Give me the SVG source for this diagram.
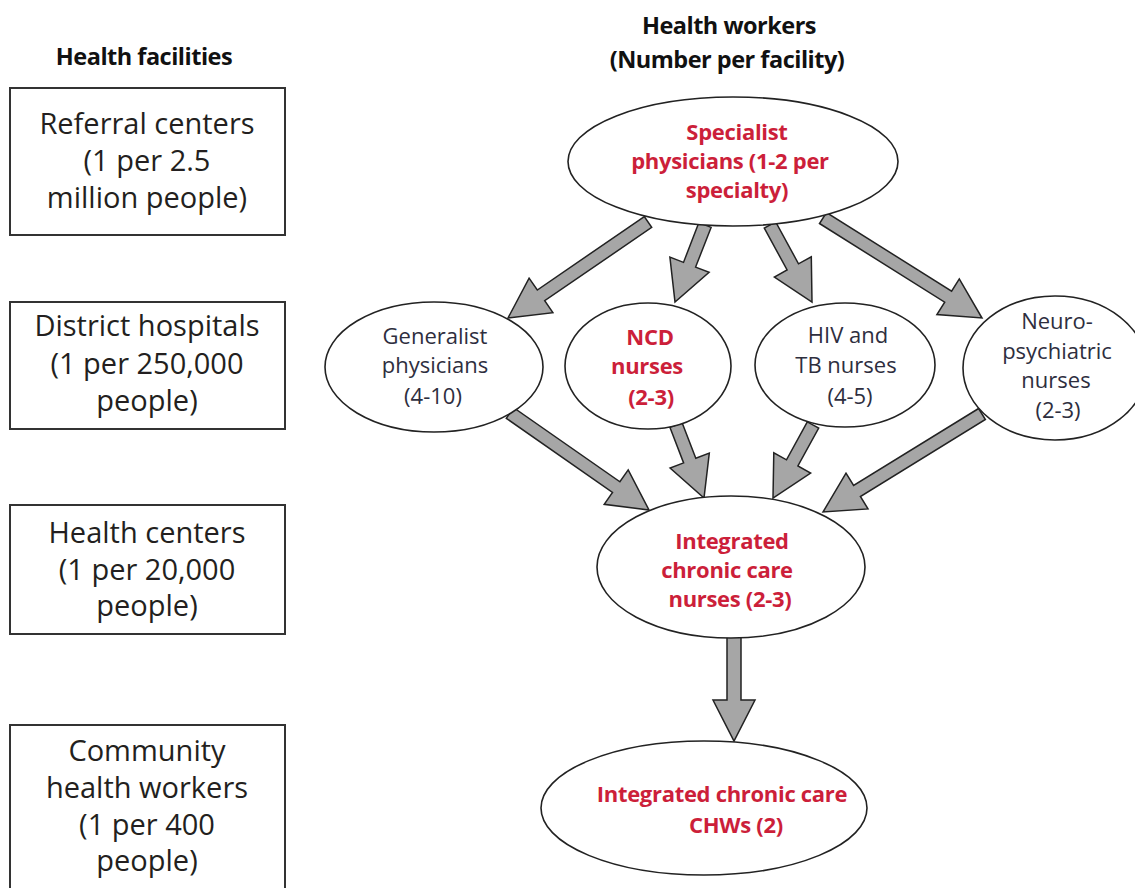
<svg xmlns="http://www.w3.org/2000/svg" width="1135" height="888" viewBox="0 0 1135 888">
<style>
text{font-family:"Open Sans","Lato","Liberation Sans",sans-serif;text-anchor:middle}
.hdr{font-size:23.5px;font-weight:bold;fill:#111;letter-spacing:-0.5px}
.box{fill:#fff;stroke:#333;stroke-width:2}
.bt{font-size:29px;fill:#231f20}
.el{fill:#fff;stroke:#222;stroke-width:1.6}
.nt{font-size:22px;fill:#2e2e3e}
.rt{font-size:22px;font-weight:bold;fill:#cc1f3a;letter-spacing:-0.3px}
.arr{fill:#a6a6a6;stroke:#222;stroke-width:1.5;stroke-linejoin:miter}
</style>
<rect width="1135" height="888" fill="#fff"/>
<g id="headers">
<text class="hdr" x="144" y="65">Health facilities</text>
<text class="hdr" x="729" y="34">Health workers</text>
<text class="hdr" x="727" y="68">(Number per facility)</text>
</g>
<g id="facility-referral">
<rect class="box" x="10" y="88" width="275" height="147"/>
<text class="bt" x="147" y="134">Referral centers</text>
<text class="bt" x="147" y="171">(1 per 2.5</text>
<text class="bt" x="147" y="208">million people)</text>
</g>
<g id="facility-district">
<rect class="box" x="10" y="302" width="275" height="127"/>
<text class="bt" x="147" y="336">District hospitals</text>
<text class="bt" x="147" y="374">(1 per 250,000</text>
<text class="bt" x="147" y="411">people)</text>
</g>
<g id="facility-health-centers">
<rect class="box" x="10" y="505" width="275" height="129"/>
<text class="bt" x="147" y="543">Health centers</text>
<text class="bt" x="147" y="580">(1 per 20,000</text>
<text class="bt" x="147" y="616">people)</text>
</g>
<g id="facility-chw">
<rect class="box" x="10" y="725" width="275" height="175"/>
<text class="bt" x="147" y="761">Community</text>
<text class="bt" x="147" y="798">health workers</text>
<text class="bt" x="147" y="835">(1 per 400</text>
<text class="bt" x="147" y="871">people)</text>
</g>
<g id="connectors">
<polygon class="arr" points="644.3,216.6 537.3,290.0 529.1,278.1 508,318 552.9,312.7 544.7,300.7 651.7,227.4"/>
<polygon class="arr" points="698.9,222.6 683.5,262.4 669.9,257.1 675,302 709.1,272.3 695.6,267.1 711.1,227.4"/>
<polygon class="arr" points="764.3,228.1 787.1,270.0 774.4,277.0 812,302 811.3,256.8 798.5,263.8 775.7,221.9"/>
<polygon class="arr" points="819.5,223.5 944.7,302.2 936.9,314.5 982,318 959.3,278.9 951.6,291.2 826.5,212.5"/>
<polygon class="arr" points="506.3,418.3 612.5,492.4 604.2,504.3 649,510 628.2,469.9 619.9,481.8 513.7,407.7"/>
<polygon class="arr" points="669.9,427.3 683.6,462.9 670.1,468.1 704,498 709.3,453.1 695.8,458.3 682.1,422.7"/>
<polygon class="arr" points="807.3,421.9 786.5,459.8 773.8,452.8 773,498 810.6,473.0 797.9,466.0 818.7,428.1"/>
<polygon class="arr" points="978.6,408.5 853.6,485.5 846.0,473.1 823,512 868.0,508.9 860.4,496.5 985.4,419.5"/>
<polygon class="arr" points="727,630 727,700 713,700 734,741 755,700 741,700 741,630"/>
</g>
<g id="node-specialist">
<ellipse class="el" cx="733" cy="161.5" rx="165" ry="64.5"/>
<text class="rt" x="737" y="140">Specialist</text>
<text class="rt" x="730" y="169">physicians (1-2 per</text>
<text class="rt" x="737" y="198">specialty)</text>
</g>
<g id="node-generalist">
<ellipse class="el" cx="434" cy="367" rx="109" ry="65"/>
<text class="nt" x="435" y="344">Generalist</text>
<text class="nt" x="435" y="373">physicians</text>
<text class="nt" x="433" y="404">(4-10)</text>
</g>
<g id="node-ncd">
<ellipse class="el" cx="648" cy="366" rx="83" ry="63"/>
<text class="rt" x="650" y="345">NCD</text>
<text class="rt" x="647" y="374">nurses</text>
<text class="rt" x="651" y="405">(2-3)</text>
</g>
<g id="node-hiv">
<ellipse class="el" cx="845" cy="365" rx="90" ry="62"/>
<text class="nt" x="848" y="343">HIV and</text>
<text class="nt" x="846" y="373">TB nurses</text>
<text class="nt" x="850" y="404">(4-5)</text>
</g>
<g id="node-neuro">
<ellipse class="el" cx="1055" cy="368" rx="92" ry="72"/>
<text class="nt" x="1057" y="329">Neuro-</text>
<text class="nt" x="1057" y="359">psychiatric</text>
<text class="nt" x="1056" y="388">nurses</text>
<text class="nt" x="1058" y="418">(2-3)</text>
</g>
<g id="node-integrated-nurses">
<ellipse class="el" cx="731" cy="567" rx="134" ry="71"/>
<text class="rt" x="732" y="549">Integrated</text>
<text class="rt" x="727" y="578">chronic care</text>
<text class="rt" x="730" y="607">nurses (2-3)</text>
</g>
<g id="node-integrated-chws">
<ellipse class="el" cx="704" cy="808" rx="163" ry="67"/>
<text class="rt" x="722" y="802">Integrated chronic care</text>
<text class="rt" x="736" y="833">CHWs (2)</text>
</g>
</svg>
